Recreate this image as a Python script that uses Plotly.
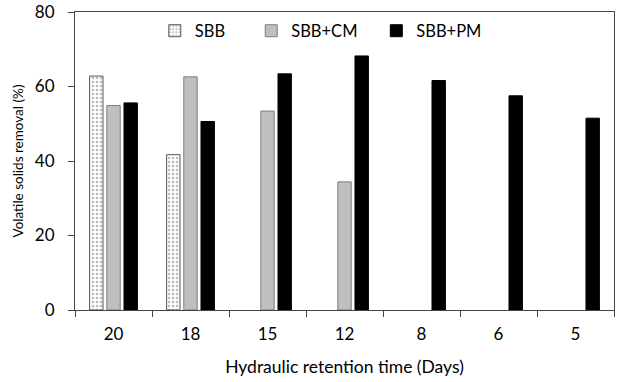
import plotly.graph_objects as go

categories = ["20", "18", "15", "12", "8", "6", "5"]
sbb = [62.8, 41.7, None, None, None, None, None]
sbb_cm = [54.9, 62.6, 53.4, 34.4, None, None, None]
sbb_pm = [55.6, 50.6, 63.4, 68.2, 61.6, 57.5, 51.5]
y_ticks = [0, 20, 40, 60, 80]

FONT = "Lato"

fig = go.Figure()
fig.add_trace(go.Bar(
    name="SBB", x=categories, y=sbb, legend="legend",
    marker=dict(color="white", line=dict(color="#555555", width=1),
                pattern=dict(shape=".", fgcolor="#777777", bgcolor="white",
                             size=4, solidity=0.35)),
))
fig.add_trace(go.Bar(
    name="SBB+CM", x=categories, y=sbb_cm, legend="legend2",
    marker=dict(color="#bfbfbf", line=dict(color="#7f7f7f", width=1)),
))
fig.add_trace(go.Bar(
    name="SBB+PM", x=categories, y=sbb_pm, legend="legend3",
    marker=dict(color="black", line=dict(color="black", width=1)),
))

leg_common = dict(orientation="h", y=0.995, xanchor="left", yanchor="top",
                  font=dict(family=FONT, size=16.5), bgcolor="rgba(0,0,0,0)")

fig.update_layout(
    width=639, height=382,
    margin=dict(l=75, r=25, t=12, b=72),
    paper_bgcolor="white", plot_bgcolor="white",
    barmode="group", bargap=0.33, bargroupgap=0.22,
    font=dict(family=FONT, size=16, color="black"),
    showlegend=True,
    legend=dict(x=0.148, **leg_common),
    legend2=dict(x=0.327, **leg_common),
    legend3=dict(x=0.559, **leg_common),
    xaxis=dict(
        type="category", tickson="boundaries", automargin=False,
        ticks="outside", ticklen=6, tickcolor="#444444",
        showline=True, linecolor="#444444", linewidth=1, mirror=True,
        showgrid=False, ticklabelstandoff=9,
        title=dict(text="Hydraulic retention time (Days)", font=dict(size=17.5), standoff=17),
        tickfont=dict(size=17),
    ),
    yaxis=dict(
        range=[0, 80], tickvals=y_ticks, automargin=False,
        ticks="outside", ticklen=6, tickcolor="#444444",
        showline=True, linecolor="#444444", linewidth=1, mirror=True,
        showgrid=False, zeroline=False, ticklabelstandoff=10,
        title=dict(text="Volatile solids removal (%)", font=dict(size=13.5), standoff=8),
        tickfont=dict(size=17),
    ),
)

fig.write_html("out.html",
               config={"displayModeBar": False},
               post_script="document.body.style.margin='0';document.body.style.overflow='hidden';")
